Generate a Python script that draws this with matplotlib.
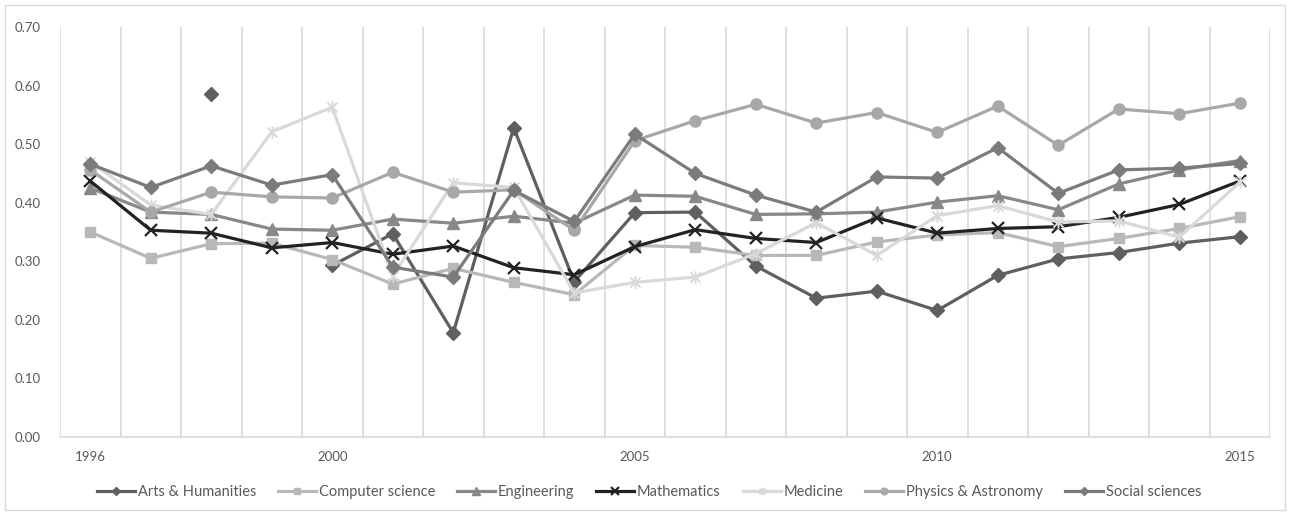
import numpy as np
import matplotlib
matplotlib.use("Agg")
import matplotlib.pyplot as plt
from matplotlib.path import Path
from matplotlib.patches import Rectangle
from matplotlib.lines import Line2D

plt.rcParams['font.family'] = ['Lato', 'DejaVu Sans']

years = list(range(1996, 2016))
labelled_years = [1996, 2000, 2005, 2010, 2015]
nan = np.nan

arts = [nan, nan, 0.585, nan, 0.293, 0.347, 0.178, 0.528, 0.265, 0.383,
        0.384, 0.292, 0.237, 0.249, 0.216, 0.276, 0.304, 0.315, 0.331, 0.342]
computer = [0.350, 0.305, 0.330, 0.331, 0.303, 0.261, 0.288, 0.264, 0.243, 0.327,
            0.324, 0.310, 0.310, 0.333, 0.345, 0.349, 0.325, 0.339, 0.356, 0.376]
engineering = [0.425, 0.384, 0.380, 0.355, 0.353, 0.372, 0.365, 0.377, 0.365, 0.413,
               0.411, 0.380, 0.381, 0.384, 0.401, 0.412, 0.388, 0.432, 0.456, 0.472]
mathematics = [0.437, 0.353, 0.348, 0.323, 0.332, 0.312, 0.326, 0.289, 0.277, 0.325,
               0.354, 0.339, 0.332, 0.374, 0.348, 0.356, 0.359, 0.375, 0.397, 0.437]
medicine = [0.470, 0.396, 0.380, 0.521, 0.563, 0.275, 0.434, 0.426, 0.246, 0.264,
            0.273, 0.313, 0.366, 0.310, 0.378, 0.395, 0.367, 0.369, 0.341, 0.435]
physics = [0.456, 0.384, 0.418, 0.410, 0.408, 0.452, 0.418, 0.422, 0.353, 0.506,
           0.540, 0.568, 0.536, 0.554, 0.520, 0.565, 0.498, 0.560, 0.552, 0.570]
social = [0.466, 0.426, 0.463, 0.430, 0.448, 0.290, 0.273, 0.421, 0.368, 0.517,
          0.450, 0.413, 0.384, 0.444, 0.442, 0.494, 0.416, 0.456, 0.459, 0.467]

names = ["Arts & Humanities", "Computer science", "Engineering", "Mathematics",
         "Medicine", "Physics & Astronomy", "Social sciences"]
series = [arts, computer, engineering, mathematics, medicine, physics, social]

# asterisk marker: an X crossed by a vertical bar
star = Path([(-1, -1), (1, 1), (-1, 1), (1, -1), (0, -1.25), (0, 1.25)],
            [Path.MOVETO, Path.LINETO, Path.MOVETO, Path.LINETO, Path.MOVETO, Path.LINETO])

styles = {
    "Arts & Humanities": dict(color="#5f5f5f", marker="D", ms=7),
    "Computer science": dict(color="#b8b8b8", marker="s", ms=7.5),
    "Engineering": dict(color="#888888", marker="^", ms=8.5),
    "Mathematics": dict(color="#222222", marker="x", ms=9, mew=1.6),
    "Medicine": dict(color="#d9d9d9", marker=star, ms=9, mew=1.4),
    "Physics & Astronomy": dict(color="#a8a8a8", marker="o", ms=8),
    "Social sciences": dict(color="#7b7b7b", marker="D", ms=7),
}

fig = plt.figure(figsize=(12.9, 5.15), dpi=100)
ax = fig.add_axes([60 / 1290, 1 - 437 / 515, 1210 / 1290, 410 / 515])

x = np.arange(len(years))
lw = 2.3
handles = []
for name, vals in zip(names, series):
    st = styles[name]
    mew = st.get("mew", 1.0)
    ax.plot(x, vals, color=st["color"], lw=lw, marker=st["marker"], ms=st["ms"],
            mec=st["color"], mfc=st["color"], mew=mew, solid_joinstyle="round", zorder=3)
    handles.append(Line2D([], [], color=st["color"], lw=lw, marker=st["marker"],
                          ms=st["ms"] * 0.6, mec=st["color"], mfc=st["color"], mew=mew))

ax.set_xlim(-0.5, len(years) - 0.5)
ax.set_ylim(0, 0.70)
ax.set_yticks(np.arange(0, 0.71, 0.10))
ax.set_yticklabels([f"{v:.2f}" for v in np.arange(0, 0.71, 0.10)])
ax.set_xticks([years.index(yr) for yr in labelled_years])
ax.set_xticklabels([str(yr) for yr in labelled_years])
ax.set_xticks(np.arange(-0.5, len(years), 1), minor=True)
ax.grid(True, which="minor", axis="x", color="#d9d9d9", lw=1.2, zorder=0)
ax.grid(False, which="major")
ax.tick_params(axis="both", which="both", length=0, colors="#595959", labelsize=9.5)
ax.tick_params(axis="y", pad=14)
ax.tick_params(axis="x", pad=10)
for side in ("left", "right", "top"):
    ax.spines[side].set_visible(False)
ax.spines["bottom"].set_color("#d9d9d9")
ax.spines["bottom"].set_linewidth(1.2)

fig.legend(handles, names, loc="center", bbox_to_anchor=(649 / 1290, 1 - 492 / 515),
           ncol=7, frameon=False, fontsize=10.5, labelcolor="#595959",
           handlelength=2.6, handletextpad=0.2, columnspacing=1.5)

fig.patches.append(Rectangle((5 / 1290, 5 / 515), 1280 / 1290, 505 / 515,
                             transform=fig.transFigure, fill=False,
                             edgecolor="#d9d9d9", lw=1.0))

fig.savefig("out.png", dpi=100, facecolor="white")
